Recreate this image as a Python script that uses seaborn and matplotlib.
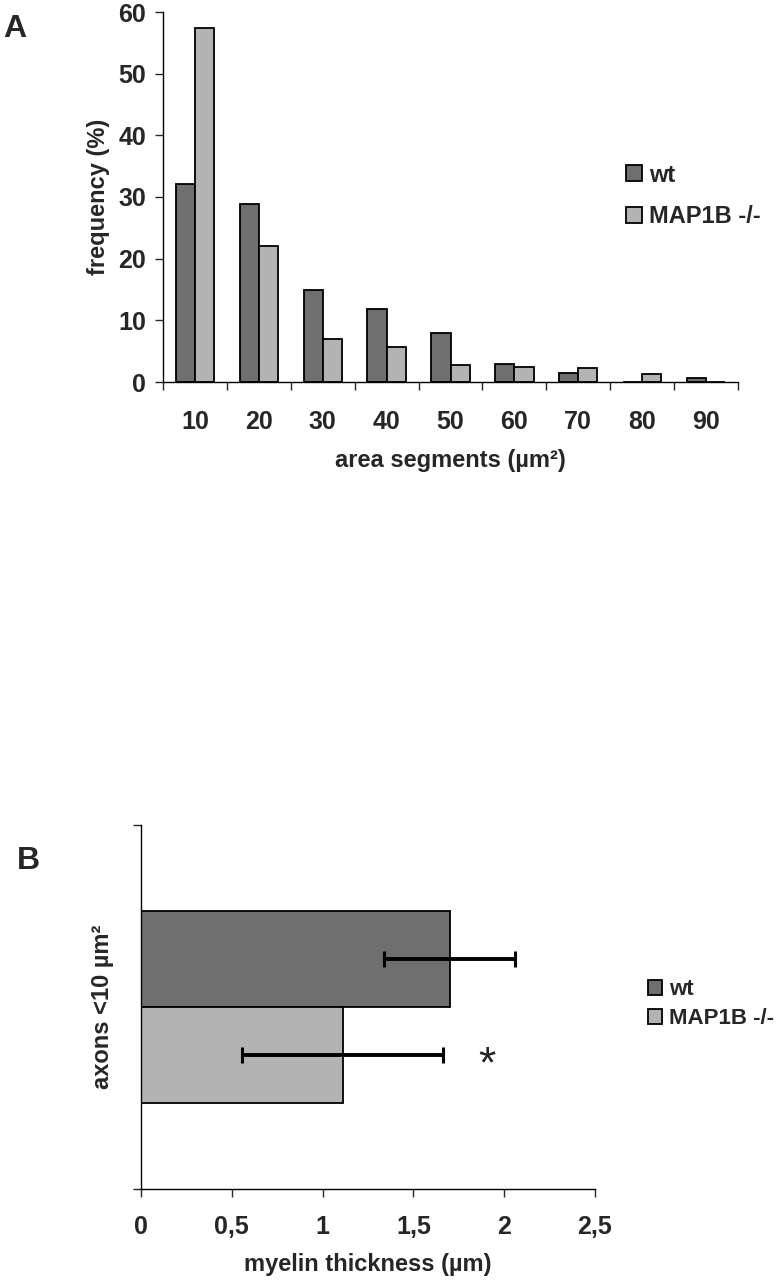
import numpy as np
import pandas as pd
import seaborn as sns
import matplotlib.pyplot as plt
from matplotlib.ticker import FixedLocator

# ---- data ----
segments = ['10', '20', '30', '40', '50', '60', '70', '80', '90']
freq_wt = [32.1, 28.9, 15.0, 11.8, 8.0, 3.0, 1.5, 0.0, 0.7]
freq_ko = [57.4, 22.1, 6.9, 5.7, 2.7, 2.4, 2.2, 1.3, 0.05]

groups = ['wt', 'MAP1B -/-']
myelin_mean = [1.70, 1.11]
myelin_err = [0.36, 0.555]

colors = ['#6f6f6f', '#b3b3b3']

sns.set_style('white')
plt.rcParams['font.family'] = ['Liberation Sans', 'DejaVu Sans']
plt.rcParams['font.weight'] = 'bold'
plt.rcParams['axes.labelweight'] = 'bold'

fig = plt.figure(figsize=(7.79, 12.8), dpi=100)
W, H = 779, 1280

# ---- panel A ----
axA = fig.add_axes([163 / W, 1 - 382 / H, (738 - 163) / W, 370 / H])
dfA = pd.DataFrame({
    'segment': segments * 2,
    'freq': freq_wt + freq_ko,
    'group': ['wt'] * len(segments) + ['MAP1B -/-'] * len(segments),
})
sns.barplot(data=dfA, x='segment', y='freq', hue='group', hue_order=groups,
            palette=colors, width=0.6, edgecolor='black', linewidth=1.3,
            saturation=1, ax=axA)
axA.set_ylim(0, 60)
axA.set_xlim(-0.5, len(segments) - 0.5)
axA.set_yticks(range(0, 61, 10))
axA.xaxis.set_minor_locator(FixedLocator(np.arange(-0.5, len(segments), 1)))
axA.tick_params(axis='x', which='major', length=0, pad=20, labelsize=18)
axA.tick_params(axis='x', which='minor', length=6, width=1, direction='out', bottom=True)
axA.tick_params(axis='y', length=6, width=1, direction='out', left=True, pad=6, labelsize=18)
for s in ['top', 'right']:
    axA.spines[s].set_visible(False)
for s in ['left', 'bottom']:
    axA.spines[s].set_linewidth(1)
    axA.spines[s].set_color('black')
axA.set_xlabel('area segments (µm²)', fontsize=17, labelpad=11)
axA.set_ylabel('frequency (%)', fontsize=17, labelpad=6)
hA, lA = axA.get_legend_handles_labels()
axA.legend(hA, lA, loc='center left', bbox_to_anchor=(605 / W, 1 - 196 / H),
           bbox_transform=fig.transFigure, frameon=False, fontsize=17,
           handlelength=0.65, handleheight=0.65, handletextpad=0.3,
           labelspacing=0.8)

# ---- panel B ----
axB = fig.add_axes([141 / W, 1 - 1189 / H, (595 - 141) / W, (1189 - 825) / H])
dfB = pd.DataFrame({
    'cat': ['axons'] * 2,
    'thick': myelin_mean,
    'group': groups,
})
sns.barplot(data=dfB, x='thick', y='cat', hue='group', hue_order=groups,
            palette=colors, width=0.53, edgecolor='black', linewidth=1.3,
            saturation=1, orient='h', ax=axB)
bars = [p for p in axB.patches if p.get_height() > 0][:2]
centers = [p.get_y() + p.get_height() / 2 for p in bars]
axB.errorbar(myelin_mean, centers, xerr=myelin_err, fmt='none',
             ecolor='black', elinewidth=2.8, capsize=6, capthick=2.2)
axB.annotate('*', xy=(myelin_mean[1] + myelin_err[1] + 0.24, centers[1]),
             xytext=(0, -8), textcoords='offset points',
             fontsize=32, ha='center', va='center', fontweight='normal')
axB.set_xlim(0, 2.5)
axB.set_ylim(0.5, -0.5)
axB.set_xticks([0, 0.5, 1, 1.5, 2, 2.5])
axB.set_xticklabels(['0', '0,5', '1', '1,5', '2', '2,5'])
axB.set_yticks([-0.5, 0.5])
axB.set_yticklabels([])
axB.tick_params(axis='x', length=6, width=1, direction='out', bottom=True, pad=13, labelsize=18)
axB.tick_params(axis='y', length=6, width=1, direction='out', left=True)
for s in ['top', 'right']:
    axB.spines[s].set_visible(False)
for s in ['left', 'bottom']:
    axB.spines[s].set_linewidth(1)
    axB.spines[s].set_color('black')
axB.set_xlabel('myelin thickness (µm)', fontsize=17, labelpad=10)
axB.set_ylabel('axons <10 µm²', fontsize=17, labelpad=10)
hB, lB = axB.get_legend_handles_labels()
axB.legend(hB[:2], lB[:2], loc='center left', bbox_to_anchor=(628 / W, 1 - 1004 / H),
           bbox_transform=fig.transFigure, frameon=False, fontsize=16,
           handlelength=0.65, handleheight=0.65, handletextpad=0.3,
           labelspacing=0.35)

fig.text(3 / W, 1 - 37 / H, 'A', fontsize=23, fontweight='bold')
fig.text(17 / W, 1 - 869 / H, 'B', fontsize=23, fontweight='bold')

fig.savefig('out.png', dpi=100, facecolor='white')
